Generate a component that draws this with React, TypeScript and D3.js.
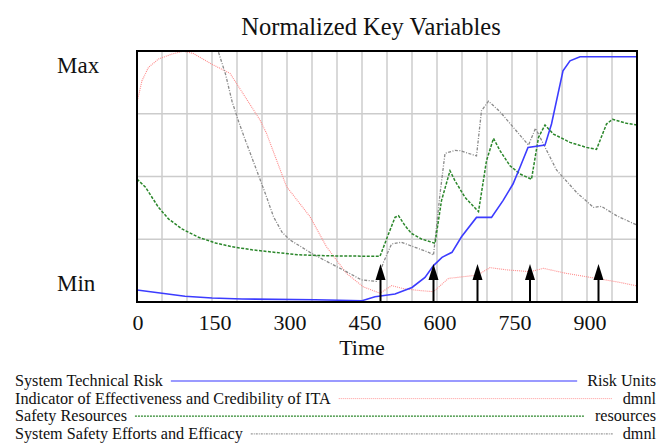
import React, { useEffect, useRef } from "react";
import * as d3 from "d3";

const chartTitle = "Normalized Key Variables";
const xLabel = "Time";
const xTicks = [0, 150, 300, 450, 600, 750, 900];
const yLabels = ["Max", "Min"];

const riskData: [number, number][] = [
  [0, 0.048], [50, 0.035], [96, 0.023], [150, 0.016], [210, 0.012], [356, 0.009],
  [450, 0.005], [476, 0.021], [516, 0.032], [550, 0.058], [576, 0.098], [593, 0.145],
  [610, 0.178], [630, 0.198], [649, 0.26], [679, 0.337], [709, 0.337], [732, 0.404],
  [752, 0.47], [766, 0.537], [782, 0.616], [816, 0.625], [829, 0.709], [842, 0.829],
  [852, 0.921], [866, 0.961], [886, 0.977], [1000, 0.977],
];

const itaData: [number, number][] = [
  [0, 0.795], [10, 0.882], [23, 0.935], [43, 0.968], [70, 0.988], [93, 0.999],
  [113, 0.99], [153, 0.944], [186, 0.911], [199, 0.871], [246, 0.725], [259, 0.672],
  [299, 0.46], [346, 0.34], [379, 0.22], [419, 0.114], [453, 0.06], [486, 0.035],
  [509, 0.065], [536, 0.052], [569, 0.045], [593, 0.041], [616, 0.082], [623, 0.094],
  [649, 0.1], [681, 0.107], [706, 0.137], [739, 0.128], [786, 0.121], [813, 0.134],
  [859, 0.114], [919, 0.094], [966, 0.078], [1000, 0.064],
];

const resourcesData: [number, number][] = [
  [0, 0.49], [17, 0.457], [43, 0.377], [63, 0.331], [90, 0.291], [123, 0.258],
  [157, 0.235], [190, 0.22], [230, 0.208], [270, 0.199], [323, 0.188], [382, 0.184],
  [486, 0.182], [503, 0.271], [516, 0.337], [523, 0.344], [536, 0.304], [549, 0.273],
  [569, 0.251], [596, 0.234], [609, 0.404], [626, 0.523], [636, 0.483], [656, 0.417],
  [683, 0.36], [699, 0.563], [713, 0.652], [726, 0.603], [746, 0.543], [766, 0.51],
  [789, 0.489], [803, 0.656], [816, 0.705], [833, 0.669], [866, 0.636], [899, 0.616],
  [919, 0.608], [939, 0.709], [951, 0.728], [979, 0.712], [1000, 0.705],
];

const effortsData: [number, number][] = [
  [163, 0.995], [177, 0.908], [190, 0.8], [203, 0.72], [217, 0.643], [237, 0.537],
  [257, 0.43], [273, 0.34], [290, 0.278], [306, 0.247], [330, 0.218], [349, 0.194],
  [383, 0.158], [413, 0.127], [449, 0.088], [479, 0.082], [493, 0.158], [509, 0.231],
  [529, 0.238], [556, 0.218], [583, 0.198], [593, 0.187], [606, 0.43], [616, 0.592],
  [636, 0.604], [646, 0.603], [679, 0.582], [689, 0.762], [703, 0.8], [726, 0.758],
  [783, 0.625], [797, 0.692], [809, 0.645], [839, 0.526], [879, 0.437], [913, 0.377],
  [929, 0.381], [959, 0.344], [999, 0.307],
];

const eventTimes = [487, 593, 681, 786, 923];

const seriesNames = [
  "System Technical Risk",
  "Indicator of Effectiveness and Credibility of ITA",
  "Safety Resources",
  "System Safety Efforts and Efficacy",
];
const seriesUnits = ["Risk Units", "dmnl", "resources", "dmnl"];

const FONT = "'Liberation Serif', 'Times New Roman', serif";

export default function App() {
  const ref = useRef<SVGSVGElement>(null);

  useEffect(() => {
    const svg = d3.select(ref.current);
    svg.selectAll("*").remove();
    const W = 660;
    const left = 137, right = 637, top = 51, bottom = 302;

    const x = d3.scaleLinear().domain([0, 1000]).range([left, right]);
    const y = d3.scaleLinear().domain([0, 1]).range([bottom, top]);

    svg.append("rect").attr("width", W).attr("height", 445).attr("fill", "white");

    // title
    svg.append("text").attr("x", 371).attr("y", 35).attr("text-anchor", "middle")
      .attr("font-family", FONT).attr("font-size", 24.5).attr("fill", "#111").text(chartTitle);

    // grid
    const g = svg.append("g");
    g.selectAll("line.v").data(d3.range(50, 1000, 50)).join("line")
      .attr("x1", d => x(d)).attr("x2", d => x(d)).attr("y1", top).attr("y2", bottom)
      .attr("stroke", "#cccccc").attr("stroke-width", 1.5);
    g.selectAll("line.h").data([0.25, 0.5, 0.75]).join("line")
      .attr("y1", d => y(d)).attr("y2", d => y(d)).attr("x1", left).attr("x2", right)
      .attr("stroke", "#cccccc").attr("stroke-width", 1.5);

    svg.append("clipPath").attr("id", "plotclip").append("rect")
      .attr("x", left).attr("y", top).attr("width", right - left).attr("height", bottom - top);

    const line = d3.line<[number, number]>().x(d => x(d[0])).y(d => y(d[1]));
    const pg = svg.append("g").attr("clip-path", "url(#plotclip)");

    const styles = [
      { data: riskData, color: "#3c3cff", dash: null as string | null, w: 1.6 },
      { data: itaData, color: "#ff8a8a", dash: "1,1", w: 1.1 },
      { data: resourcesData, color: "#2b872b", dash: "3,1.5", w: 1.5 },
      { data: effortsData, color: "#8a8a8a", dash: "3,1.5,1,1.5", w: 1.3 },
    ];
    [1, 3, 2, 0].forEach(i => {
      const s = styles[i];
      const p = pg.append("path").attr("d", line(s.data)).attr("fill", "none")
        .attr("stroke", s.color).attr("stroke-width", s.w);
      if (s.dash) p.attr("stroke-dasharray", s.dash);
    });

    // event arrows
    const ag = svg.append("g");
    eventTimes.forEach(t => {
      const cx = x(t);
      ag.append("line").attr("x1", cx).attr("x2", cx).attr("y1", bottom).attr("y2", 278)
        .attr("stroke", "black").attr("stroke-width", 2);
      ag.append("path").attr("d", `M${cx},264 L${cx - 5},280 L${cx + 5},280 Z`).attr("fill", "black");
    });

    // border
    svg.append("rect").attr("x", left).attr("y", top).attr("width", right - left)
      .attr("height", bottom - top).attr("fill", "none").attr("stroke", "black").attr("stroke-width", 2);

    // y labels
    svg.append("text").attr("x", 57).attr("y", 73).attr("font-family", FONT)
      .attr("font-size", 23).attr("fill", "#111").text(yLabels[0]);
    svg.append("text").attr("x", 57).attr("y", 291).attr("font-family", FONT)
      .attr("font-size", 23).attr("fill", "#111").text(yLabels[1]);

    // x ticks
    svg.selectAll("text.xt").data(xTicks).join("text")
      .attr("x", d => x(d) + (d === 0 ? 1 : 3)).attr("y", 330).attr("text-anchor", "middle")
      .attr("font-family", FONT).attr("font-size", 22).attr("fill", "#111").text(d => String(d));
    svg.append("text").attr("x", 362).attr("y", 355).attr("text-anchor", "middle")
      .attr("font-family", FONT).attr("font-size", 22).attr("fill", "#111").text(xLabel);

    // legend
    const legendStyles = [
      { color: "#9a9aff", dash: null as string | null, w: 2 },
      { color: "#ff9a9a", dash: "1,1", w: 1 },
      { color: "#2b872b", dash: "2,1", w: 1.2 },
      { color: "#9a9a9a", dash: "2,1,1,1", w: 1.2 },
    ];
    const legendRight = 656;
    seriesNames.forEach((name, i) => {
      const by = 386 + i * 17.6;
      const t = svg.append("text").attr("x", 15).attr("y", by).attr("font-family", FONT)
        .attr("font-size", 16.2).attr("fill", "#111").text(name);
      const u = svg.append("text").attr("x", legendRight).attr("y", by).attr("text-anchor", "end")
        .attr("font-family", FONT).attr("font-size", 16.2).attr("fill", "#111").text(seriesUnits[i]);
      const tn = t.node() as SVGTextElement;
      const un = u.node() as SVGTextElement;
      const x1 = 15 + tn.getComputedTextLength() + 8;
      const x2 = legendRight - un.getComputedTextLength() - 10;
      const s = legendStyles[i];
      const l = svg.append("line").attr("x1", x1).attr("x2", x2).attr("y1", by - 5).attr("y2", by - 5)
        .attr("stroke", s.color).attr("stroke-width", s.w);
      if (s.dash) l.attr("stroke-dasharray", s.dash);
    });
  }, []);

  return (
    <svg ref={ref} width={660} height={445}
      style={{ position: "absolute", left: 0, top: 0, display: "block" }} />
  );
}
